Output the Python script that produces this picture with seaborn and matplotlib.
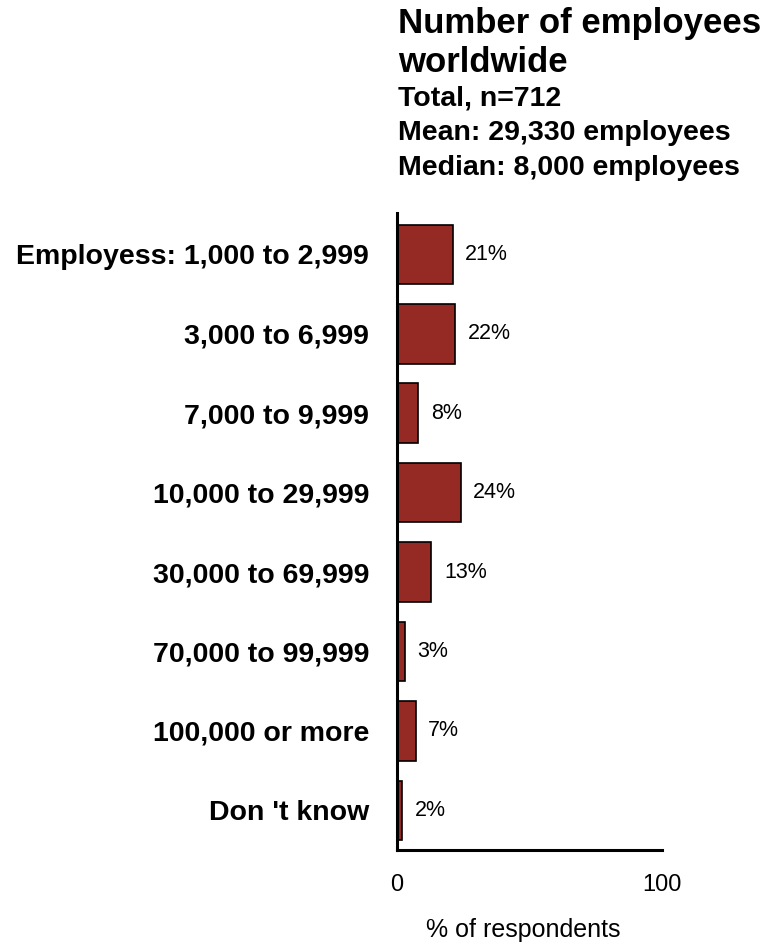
import matplotlib
matplotlib.use('Agg')
import matplotlib.pyplot as plt
import seaborn as sns
import pandas as pd

# data
categories = ['Employess: 1,000 to 2,999', '3,000 to 6,999', '7,000 to 9,999',
              '10,000 to 29,999', '30,000 to 69,999', '70,000 to 99,999',
              '100,000 or more', "Don 't know"]
shares = [21, 22, 8, 24, 13, 3, 7, 2]
value_labels = ['21%', '22%', '8%', '24%', '13%', '3%', '7%', '2%']
title_lines = ['Number of employees', 'worldwide']
sub_lines = ['Total, n=712', 'Mean: 29,330 employees', 'Median: 8,000 employees']

df = pd.DataFrame({'size': categories, 'share': shares})

sns.set_style('white')
plt.rcParams['font.family'] = ['Liberation Sans', 'DejaVu Sans']
plt.rcParams['text.color'] = 'black'
plt.rcParams['axes.labelcolor'] = 'black'
plt.rcParams['xtick.color'] = 'black'
plt.rcParams['ytick.color'] = 'black'

W, H = 772, 942
fig = plt.figure(figsize=(W / 100, H / 100), dpi=100)
ax = fig.add_axes([397 / W, 1 - 850 / H, (662 - 397) / W, (850 - 213) / H])

sns.barplot(data=df, x='share', y='size', orient='h', color='#952a25',
            saturation=1, edgecolor='black', linewidth=1.2, width=0.75, ax=ax)

ax.set_xlim(0, 100)
ax.set_ylim(7.5, -0.52)
ax.set_xticks([0, 100])
ax.set_xticklabels(['0', '100'], fontsize=17)
ax.tick_params(axis='x', length=0, pad=17)
ax.tick_params(axis='y', length=0, pad=20)
for lab in ax.get_yticklabels():
    lab.set_fontsize(20.5)
    lab.set_fontweight('bold')
ax.set_ylabel('')
ax.set_xlabel('% of respondents', fontsize=18)
ax.xaxis.set_label_coords(0.475, -0.107)

sns.despine(ax=ax)
for side in ['left', 'bottom']:
    ax.spines[side].set_linewidth(2.2)
    ax.spines[side].set_color('black')

ax.bar_label(ax.containers[0], labels=value_labels, padding=9, fontsize=15.5)

# title block
x0 = 398 / W
for txt, ypx in zip(title_lines, [33, 72]):
    fig.text(x0, 1 - ypx / H, txt, fontsize=25, fontweight='bold', va='baseline', ha='left')
for txt, ypx in zip(sub_lines, [105, 140, 175]):
    fig.text(x0, 1 - ypx / H, txt, fontsize=20.5, fontweight='bold', va='baseline', ha='left')

fig.savefig('out.png', dpi=100)
